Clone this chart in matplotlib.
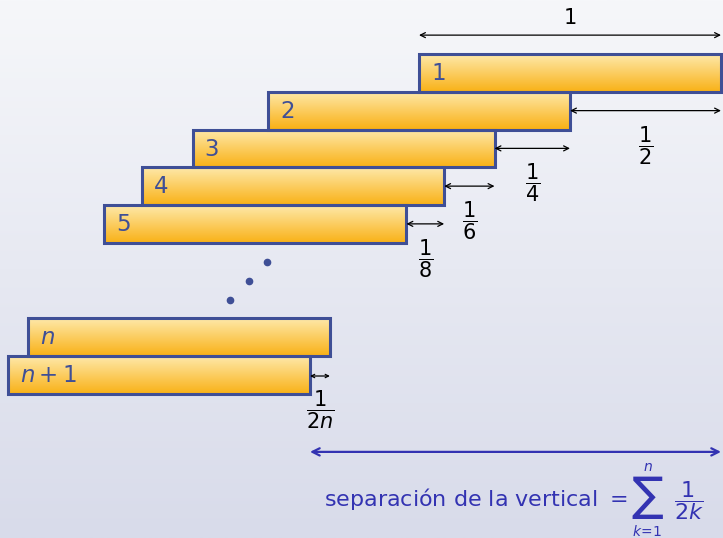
import numpy as np
import matplotlib
matplotlib.use('Agg')
import matplotlib.pyplot as plt
from matplotlib.patches import Rectangle
from matplotlib.colors import LinearSegmentedColormap

plt.rcParams['mathtext.fontset'] = 'dejavusans'

# Block data: x in block lengths (0 = right edge of top block), y in block heights
labels = ['1', '2', '3', '4', '5', '$n$', '$n+1$']
rows = [0, 1, 2, 3, 4, 7, 8]
overhangs = [0.5, 0.25, 0.1667, 0.125]   # 1/2, 1/4, 1/6, 1/8
right_n, right_n1 = -1.295, -1.361       # last two blocks (n, n+1)
over_labels = [r'$\dfrac{1}{2}$', r'$\dfrac{1}{4}$', r'$\dfrac{1}{6}$', r'$\dfrac{1}{8}$']
dots_x = [-1.503, -1.563, -1.626]
dots_y = [5.51, 6.01, 6.51]

rights = [0.0] + list(-np.cumsum(overhangs)) + [right_n, right_n1]

edge = '#3f4f96'
blue = '#3333b2'
block_cmap = LinearSegmentedColormap.from_list('blk', ['#fee9ab', '#f9b116'])
bg_cmap = LinearSegmentedColormap.from_list('bg', ['#f6f7fa', '#d8dbea'])

fig = plt.figure(figsize=(7.23, 5.38), dpi=100)
ax = fig.add_axes([0, 0, 1, 1])
x0, x1 = -721 / 302, 2 / 302
y0, y1 = 484 / 37.75, -54 / 37.75
ax.set_xlim(x0, x1)
ax.set_ylim(y0, y1)
ax.axis('off')

grad = np.linspace(0, 1, 256).reshape(-1, 1)
ax.imshow(grad, cmap=bg_cmap, extent=[x0, x1, y0, y1], aspect='auto', zorder=0)

for lab, r, right in zip(labels, rows, rights):
    left = right - 1
    ax.imshow(grad, cmap=block_cmap, extent=[left, right, r + 1, r],
              aspect='auto', zorder=2, interpolation='bilinear')
    ax.add_patch(Rectangle((left, r), 1, 1, fill=False, edgecolor=edge, lw=2.2, zorder=3))
    ax.text(left + 0.04, r + 0.52, lab, color=edge, fontsize=16.5, ha='left', va='center', zorder=4)

def dim_arrow(xa, xb, y, color='black', lw=0.9, ms=9):
    ax.annotate('', xy=(xb, y), xytext=(xa, y),
                arrowprops=dict(arrowstyle='<->', color=color, lw=lw,
                                shrinkA=0, shrinkB=0, mutation_scale=ms), zorder=5)

# top arrow, length 1
dim_arrow(-1, 0, -0.5)
ax.text(-0.5, -0.95, '1', fontsize=15, ha='center', va='center')

# overhang arrows
for i, (lab, r) in enumerate(zip(over_labels, rows[1:5])):
    xa, xb = rights[i + 1], rights[i]
    dim_arrow(xa, xb, r + 0.5)
    ax.text((xa + xb) / 2, r + 1.42, lab, fontsize=15, ha='center', va='center')

# last overhang 1/(2n)
dim_arrow(right_n1, right_n, 8.53, ms=6)
ax.text((right_n + right_n1) / 2, 9.43, r'$\dfrac{1}{2n}$', fontsize=15, ha='center', va='center')

ax.plot(dots_x, dots_y, 'o', color=edge, ms=4.5, zorder=5)

# total separation
dim_arrow(right_n1, 0, 10.54, color=blue, lw=1.6, ms=13)
ax.text(-0.311, 11.97, 'separación de la vertical $=$', color=blue, fontsize=16,
        ha='right', va='baseline')
ax.text(-0.245, 11.76, r'$\sum$', color=blue, fontsize=24, ha='center', va='center')
ax.text(-0.243, 10.93, '$n$', color=blue, fontsize=10, ha='center', va='center')
ax.text(-0.245, 12.66, r'$k\!=\!1$', color=blue, fontsize=10, ha='center', va='center')
ax.text(-0.106, 11.84, r'$\dfrac{1}{2k}$', color=blue, fontsize=16, ha='center', va='center')

fig.savefig('out.png', dpi=100)
